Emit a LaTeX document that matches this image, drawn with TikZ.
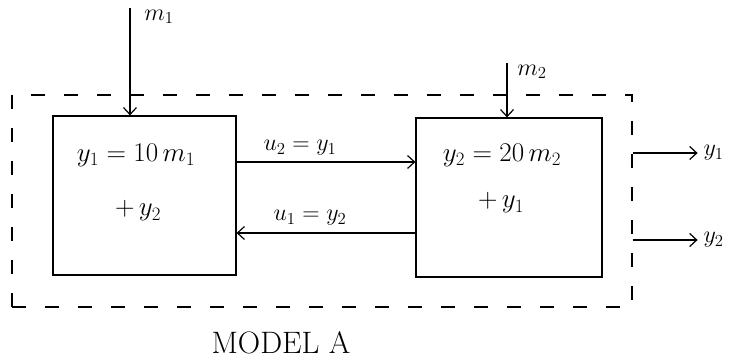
\documentclass[tikz,border=0pt]{standalone}
\usepackage{fix-cm}
\usepackage{amsmath}
\usepackage{fontspec}
\usepackage{tikz}
\usetikzlibrary{arrows.meta,positioning,calc}

\tikzset{
    block/.style={draw, line width=1.2pt, minimum width=183pt, minimum height=159pt, inner sep=0pt},
    frame/.style={draw, line width=1.2pt, dash pattern=on 14pt off 19pt, minimum width=620pt, minimum height=212pt, inner sep=0pt},
    eqn/.style={font=\fontsize{27}{32}\selectfont},
    sig/.style={font=\fontsize{24}{28}\selectfont},
    wire/.style={line width=1.2pt, ->}
}

\begin{document}
\begin{tikzpicture}[x=1pt, y=-1pt, >={Straight Barb[length=7pt,width=13pt]}]
    \useasboundingbox (0,0) rectangle (740,363);

    % Outer model boundary
    \node[frame] (model) at (322,201) {};
    \node[font=\fontsize{31}{36}\selectfont] (modelname) at (281,343) {MODEL A};

    % Two subsystems
    \node[block] (sys1) at (144.5,195.5) {};
    \node[block, minimum width=186pt] (sys2) at (509,197.5) {};

    \node[eqn] (eq1a) at (136,155) {$y_1 = 10\,m_1$};
    \node[eqn] (eq1b) at (138,211) {$+\,y_2$};
    \node[eqn] (eq2a) at (502,155) {$y_2 = 20\,m_2$};
    \node[eqn] (eq2b) at (501,203) {$+\,y_1$};

    % Inputs
    \coordinate (m1in) at (130,8);
    \coordinate (m2in) at (507,63);
    \draw[wire] (m1in) -- (m1in |- sys1.north);
    \draw[wire] (m2in) -- (m2in |- sys2.north);
    \node[sig] (m1) at (159,17) {$m_1$};
    \node[sig] (m2) at (532,72) {$m_2$};

    % Coupling between subsystems
    \coordinate (u2out) at (sys1.east |- 0,162);
    \coordinate (u1out) at (sys2.west |- 0,233);
    \draw[wire] (u2out) -- (u2out -| sys2.west);
    \draw[wire] (u1out) -- (u1out -| sys1.east);
    \node[sig] (u2) at (300,148) {$u_2 = y_1$};
    \node[sig] (u1) at (310,218) {$u_1 = y_2$};

    % Outputs
    \coordinate (y1out) at (model.east |- 0,153);
    \coordinate (y2out) at (model.east |- 0,240);
    \draw[wire] (y1out) -- ++(65,0) node[sig, right=2pt] (y1) {$y_1$};
    \draw[wire] (y2out) -- ++(65,0) node[sig, right=2pt] (y2) {$y_2$};
\end{tikzpicture}
\end{document}
